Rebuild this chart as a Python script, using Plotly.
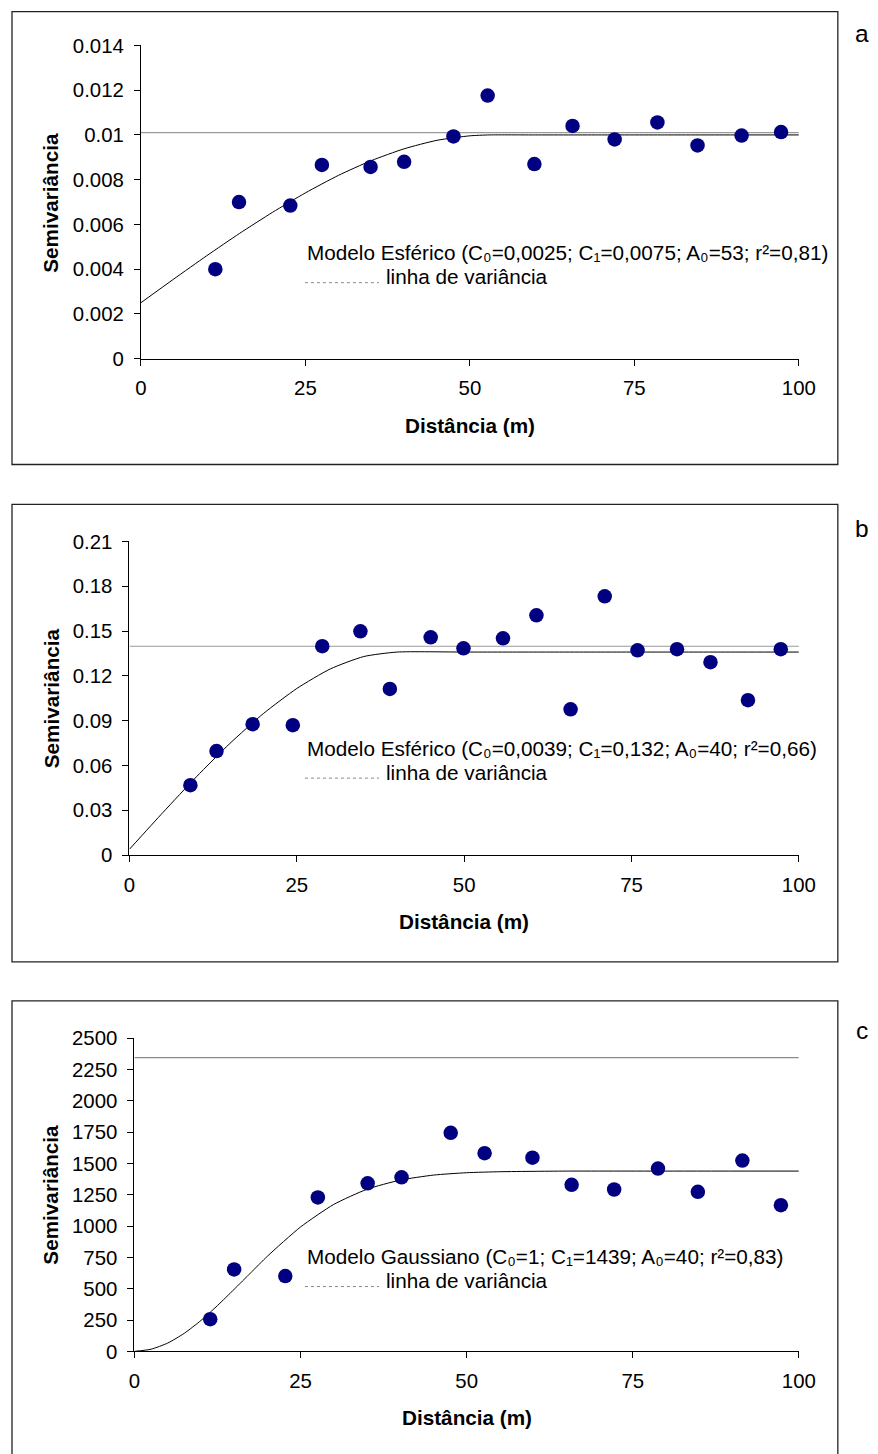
import plotly.graph_objects as go

W, H = 878, 1454
FONT = "Liberation Sans, Arial, sans-serif"

# ---- data ----
lag_a = [11.3, 14.9, 22.7, 27.5, 34.9, 40.0, 47.5, 52.7, 59.8, 65.6, 72.0, 78.5, 84.6, 91.3, 97.3]
semi_a = [0.0040, 0.0070, 0.00684, 0.00866, 0.00857, 0.00880, 0.00993, 0.01176, 0.00870, 0.01040, 0.00980, 0.01056, 0.00953, 0.00997, 0.01013]
curve_a_x = [0, 5, 10, 15, 20, 25, 30, 35, 40, 45, 50, 53, 60, 70, 80, 90, 100]
curve_a_y = [0.0025, 0.00356, 0.0046, 0.0056, 0.00654, 0.00741, 0.00819, 0.00885, 0.00938, 0.00976, 0.00996, 0.0100,
             0.0100, 0.0100, 0.0100, 0.0100, 0.0100]
var_a = 0.0101

lag_b = [9.1, 13.0, 18.4, 24.4, 28.8, 34.5, 38.9, 45.0, 49.9, 55.8, 60.8, 65.9, 71.0, 75.9, 81.8, 86.8, 92.4, 97.3]
semi_b = [0.0468, 0.0696, 0.0876, 0.0869, 0.1398, 0.1498, 0.1112, 0.1458, 0.1384, 0.1451, 0.1605, 0.0976, 0.1732,
          0.1371, 0.1378, 0.1291, 0.1037, 0.1378]
curve_b_x = [0, 5, 10, 15, 20, 25, 30, 35, 40, 50, 60, 70, 80, 90, 100]
curve_b_y = [0.0039, 0.0285, 0.0524, 0.0747, 0.0947, 0.1115, 0.1246, 0.1329, 0.1359, 0.1359, 0.1359, 0.1359, 0.1359,
             0.1359, 0.1359]
var_b = 0.1398

lag_c = [11.4, 15.0, 22.7, 27.6, 35.1, 40.2, 47.6, 52.7, 59.9, 65.8, 72.2, 78.8, 84.8, 91.5, 97.3]
semi_c = [258, 655, 602, 1230, 1342, 1390, 1746, 1583, 1547, 1330, 1293, 1460, 1275, 1524, 1168]
curve_c_x = [0, 2.5, 5, 7.5, 10, 12.5, 15, 17.5, 20, 25, 30, 35, 40, 45, 50, 55, 60, 65, 80, 100]
curve_c_y = [1, 18, 67, 145, 247, 367, 496, 628, 760, 994, 1174, 1295, 1368, 1408, 1427, 1435, 1438, 1440, 1440, 1440]
var_c = 2346

x_ticks = [0, 25, 50, 75, 100]
y_ticks_a = [0, 0.002, 0.004, 0.006, 0.008, 0.01, 0.012, 0.014]
y_ticks_b = [0, 0.03, 0.06, 0.09, 0.12, 0.15, 0.18, 0.21]
y_ticks_c = [0, 250, 500, 750, 1000, 1250, 1500, 1750, 2000, 2250, 2500]

labels = [
    "Modelo Esférico (C₀=0,0025; C₁=0,0075; A₀=53; r²=0,81)",
    "Modelo Esférico (C₀=0,0039; C₁=0,132; A₀=40; r²=0,66)",
    "Modelo Gaussiano (C₀=1; C₁=1439; A₀=40; r²=0,83)",
]
letters = ["a", "b", "c"]

# ---- layout geometry, in reference-picture pixels ----
panels = [
    dict(lag=lag_a, semi=semi_a, cx=curve_a_x, cy=curve_a_y, var=var_a, yt=y_ticks_a,
         xl=142, xr=800, yb=358, ytop=44.5, box=(13, 7, 839, 464), letter_y=33,
         text_y=252, title_y=425, ytitle_y=202),
    dict(lag=lag_b, semi=semi_b, cx=curve_b_x, cy=curve_b_y, var=var_b, yt=y_ticks_b,
         xl=130.5, xr=800, yb=855, ytop=541, box=(13, 504, 839, 962), letter_y=528,
         text_y=748, title_y=922, ytitle_y=698),
    dict(lag=lag_c, semi=semi_c, cx=curve_c_x, cy=curve_c_y, var=var_c, yt=y_ticks_c,
         xl=135.5, xr=800, yb=1352, ytop=1038.5, box=(13, 1001, 839, 1480), letter_y=1031,
         text_y=1257, title_y=1418, ytitle_y=1195),
]

# the page is photographed with a small offset/scale; compensate so marks land where the reference has them
SX, OX = 0.974, 7.0
SY, OY = 0.986, 10.0
FS = 1 / 0.98


def px(x):
    return ((x - OX) / SX) / W


def py(y):
    return 1 - ((y - OY) / SY) / H


fig = go.Figure()
shapes = []
annotations = []
layout = {}

for i, p in enumerate(panels):
    n = "" if i == 0 else str(i + 1)
    xa, ya = "x" + n, "y" + n
    fig.add_trace(go.Scatter(x=[0, 100], y=[p["var"], p["var"]], mode="lines",
                             line=dict(color="#9a9a9a" if i < 2 else "#8a8a8a", width=1.2),
                             xaxis=xa, yaxis=ya, showlegend=False, hoverinfo="skip"))
    fig.add_trace(go.Scatter(x=p["cx"], y=p["cy"], mode="lines",
                             line=dict(color="black", width=1, shape="spline", smoothing=0.6),
                             xaxis=xa, yaxis=ya, showlegend=False))
    fig.add_trace(go.Scatter(x=p["lag"], y=p["semi"], mode="markers",
                             marker=dict(color="#000080", size=14.5, line=dict(width=0)),
                             xaxis=xa, yaxis=ya, showlegend=False, cliponaxis=False))

    axis_common = dict(showgrid=False, zeroline=False, showline=True, linecolor="black", linewidth=1,
                       ticks="outside", ticklen=6, tickcolor="black", tickwidth=1,
                       tickfont=dict(family=FONT, size=20 * FS, color="black"))
    layout["xaxis" + n] = dict(axis_common, domain=[px(p["xl"]), px(p["xr"])], range=[0, 100],
                               tickvals=x_ticks, anchor=ya, ticklabelstandoff=5)
    ytxt = [("%g" % v) for v in p["yt"]]
    layout["yaxis" + n] = dict(axis_common, domain=[py(p["yb"]), py(p["ytop"])],
                               range=[0, p["yt"][-1]], tickvals=p["yt"], ticktext=ytxt, anchor=xa,
                               ticklabelstandoff=6)

    x0, y0, x1, y1 = p["box"]
    shapes.append(dict(type="rect", xref="paper", yref="paper", x0=px(x0), x1=px(x1),
                       y0=min(py(y0), 1 - 0.7 / H), y1=py(y1),
                       line=dict(color="#222222", width=1.3)))
    shapes.append(dict(type="line", xref="paper", yref="paper", x0=px(306), x1=px(380),
                       y0=py(p["text_y"] + 30), y1=py(p["text_y"] + 30),
                       line=dict(color="#888888", width=1, dash="dot")))
    annotations += [
        dict(text=labels[i], x=px(306), y=py(p["text_y"]), xref="paper", yref="paper",
             xanchor="left", yanchor="middle", showarrow=False,
             font=dict(family=FONT, size=20.3 * FS, color="black")),
        dict(text="linha de variância", x=px(385), y=py(p["text_y"] + 24), xref="paper", yref="paper",
             xanchor="left", yanchor="middle", showarrow=False,
             font=dict(family=FONT, size=20.3 * FS, color="black")),
        dict(text="<b>Distância (m)</b>", x=px((p["xl"] + p["xr"]) / 2), y=py(p["title_y"]),
             xref="paper", yref="paper", xanchor="center", yanchor="middle", showarrow=False,
             font=dict(family=FONT, size=20.3 * FS, color="black")),
        dict(text="<b>Semivariância</b>", x=px(52), y=py(p["ytitle_y"]), textangle=-90,
             xref="paper", yref="paper", xanchor="center", yanchor="middle", showarrow=False,
             font=dict(family=FONT, size=20.3 * FS, color="black")),
        dict(text=letters[i], x=px(863), y=py(p["letter_y"]), xref="paper", yref="paper",
             xanchor="center", yanchor="middle", showarrow=False,
             font=dict(family=FONT, size=24 * FS, color="black")),
    ]

fig.update_layout(width=W, height=H, margin=dict(l=0, r=0, t=0, b=0),
                  paper_bgcolor="white", plot_bgcolor="white",
                  shapes=shapes, annotations=annotations, showlegend=False, **layout)

fig.write_html("out.html", config={"displayModeBar": False},
               post_script="document.body.style.margin='0px';document.documentElement.style.overflow='hidden';")
